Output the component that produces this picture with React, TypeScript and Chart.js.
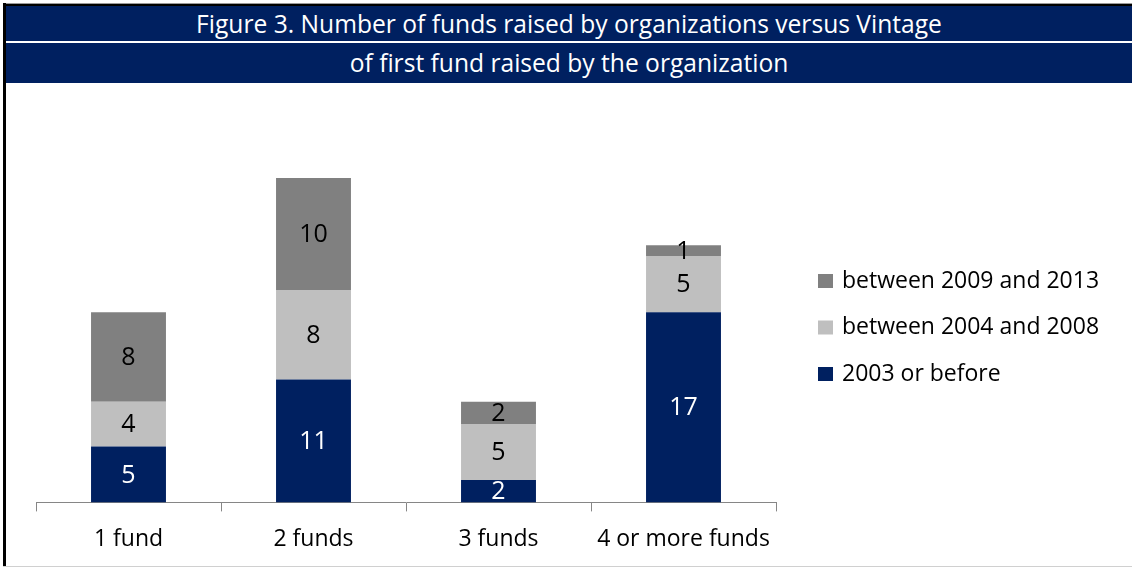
import React, { useEffect, useRef } from "react";
import { Chart, registerables } from "chart.js";

Chart.register(...registerables);

const titleLine1 = "Figure 3. Number of funds raised by organizations versus Vintage";
const titleLine2 = "of first fund raised by the organization";

const categories = ["1 fund", "2 funds", "3 funds", "4 or more funds"];
const seriesNames = ["2003 or before", "between 2004 and 2008", "between 2009 and 2013"];
const before2003 = [5, 11, 2, 17];
const from2004to2008 = [4, 8, 5, 5];
const from2009to2013 = [8, 10, 2, 1];
const seriesColors = ["#002060", "#BFBFBF", "#808080"];
const labelColors = ["#FFFFFF", "#000000", "#000000"];

const FONT = "'Open Sans', 'Noto Sans', sans-serif";

const valueLabelPlugin = {
  id: "valueLabels",
  afterDatasetsDraw(chart: any) {
    const ctx = chart.ctx;
    ctx.save();
    ctx.font = `25px ${FONT}`;
    ctx.textAlign = "center";
    ctx.textBaseline = "middle";
    chart.data.datasets.forEach((ds: any, di: number) => {
      const meta = chart.getDatasetMeta(di);
      meta.data.forEach((bar: any, i: number) => {
        const v = ds.data[i];
        if (!v) return;
        const { x, y, base } = bar.getProps(["x", "y", "base"], true);
        ctx.fillStyle = labelColors[di];
        ctx.fillText(String(v), x, (y + base) / 2 + 1);
      });
    });
    ctx.restore();
  },
};

const legendPlugin = {
  id: "customLegend",
  afterDraw(chart: any) {
    const ctx = chart.ctx;
    const area = chart.chartArea;
    ctx.save();
    ctx.font = `23px ${FONT}`;
    ctx.textAlign = "left";
    ctx.textBaseline = "middle";
    const order = [2, 1, 0];
    const x0 = area.right + 42;
    const yStart = area.top + 170;
    order.forEach((di, k) => {
      const cy = yStart + k * 46.5;
      ctx.fillStyle = seriesColors[di];
      ctx.fillRect(x0, cy - 7, 15, 14);
      ctx.fillStyle = "#000000";
      ctx.fillText(chart.data.datasets[di].label, x0 + 24, cy);
    });
    ctx.restore();
  },
};

function App() {
  const canvasRef = useRef<HTMLCanvasElement | null>(null);

  useEffect(() => {
    document.body.style.margin = "0";
    const canvas = canvasRef.current;
    if (!canvas) return;
    const seriesData = [before2003, from2004to2008, from2009to2013];
    const chart = new Chart(canvas, {
      type: "bar",
      data: {
        labels: categories,
        datasets: seriesData.map((d, i) => ({
          label: seriesNames[i],
          data: d,
          backgroundColor: seriesColors[i],
          borderWidth: 0,
          categoryPercentage: 1,
          barPercentage: 0.405,
        })),
      },
      options: {
        animation: false,
        responsive: false,
        maintainAspectRatio: false,
        layout: { padding: { left: 36, right: 356, top: 26, bottom: 3 } },
        plugins: {
          legend: { display: false },
          title: { display: false },
          tooltip: { enabled: false },
        },
        scales: {
          x: {
            stacked: true,
            offset: true,
            grid: {
              offset: true,
              drawOnChartArea: false,
              drawTicks: true,
              tickLength: 9,
              color: "#868686",
            },
            border: { display: true, color: "#868686", width: 1 },
            ticks: {
              color: "#000000",
              font: { family: FONT, size: 23 },
              padding: 14,
              maxRotation: 0,
              autoSkip: false,
            },
          },
          y: {
            stacked: true,
            display: false,
            min: 0,
            max: 35,
          },
        },
      },
      plugins: [valueLabelPlugin, legendPlugin],
    });
    return () => chart.destroy();
  }, []);

  const band: React.CSSProperties = {
    position: "absolute",
    left: 6,
    width: 1126,
    background: "#002060",
    color: "#FFFFFF",
    fontFamily: FONT,
    fontSize: 24.6,
    textAlign: "center",
    whiteSpace: "nowrap",
    overflow: "hidden",
  };

  return (
    <div style={{ position: "absolute", left: 0, top: 0, width: 1132, height: 568, background: "#FFFFFF", overflow: "hidden" }}>
      <div style={{ position: "absolute", left: 3, top: 3, width: 1129, height: 1, background: "#9a9a9a" }} />
      <div style={{ position: "absolute", left: 3, top: 4, width: 1129, height: 2, background: "#000000" }} />
      <div style={{ position: "absolute", left: 3, top: 3, width: 3, height: 564, background: "#000000" }} />
      <div style={{ position: "absolute", left: 3, top: 566, width: 1129, height: 1, background: "#d0d0d0" }} />
      <div style={{ ...band, top: 6, height: 35, lineHeight: "35px" }}>{titleLine1}</div>
      <div style={{ ...band, top: 43, height: 40, lineHeight: "40px" }}>{titleLine2}</div>
      <canvas ref={canvasRef} width={1132} height={485} style={{ position: "absolute", left: 0, top: 85, display: "block" }} />
    </div>
  );
}

export default App;
